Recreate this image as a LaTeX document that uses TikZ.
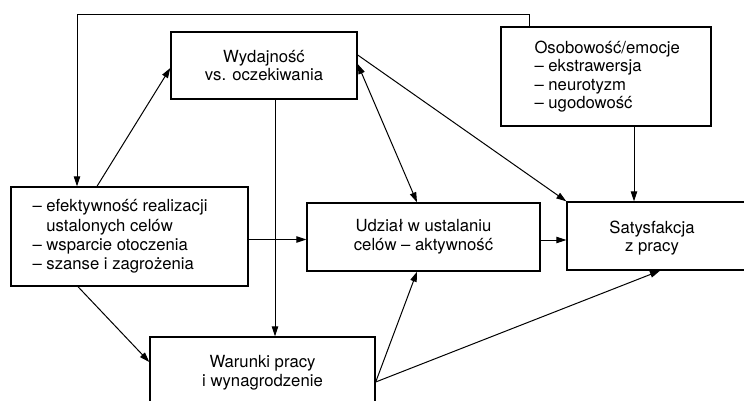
\documentclass[tikz,border=0pt]{standalone}
\usepackage{fontspec}
\setmainfont{TeX Gyre Heros}
\usetikzlibrary{arrows.meta}
\tikzset{
  box/.style={draw, line width=1.4pt, inner sep=0pt, align=center, font=\fontsize{16.7}{18.8}\selectfont},
  txt/.style={inner sep=0pt, font=\fontsize{16.7}{18.8}\selectfont},
  arr/.style={line width=1pt, -{Triangle[length=10pt,width=6.5pt]}},
  darr/.style={line width=1pt, {Triangle[length=10pt,width=6.5pt]}-{Triangle[length=10pt,width=6.5pt]}},
}
\begin{document}
\begin{tikzpicture}[x=1pt,y=-1pt]
\useasboundingbox (0,0) rectangle (744,401);
\clip (0,0) rectangle (744,401);
% boxes
\node[box, minimum width=186pt, minimum height=67pt] (wyd) at (264,65.5) {Wydajność\\vs. oczekiwania};
\node[box, minimum width=210pt, minimum height=99pt] (oso) at (606,76.5) {};
\node[box, minimum width=237pt, minimum height=99pt] (left) at (129.5,236.5) {};
\node[box, minimum width=233pt, minimum height=68pt] (udz) at (423.5,237) {Udział w ustalaniu\\celów – aktywność};
\node[box, minimum width=193pt, minimum height=68pt] (sat) at (663.5,236) {};
\node[box, minimum width=225pt, minimum height=71pt] (war) at (262.5,372.5) {Warunki pracy\\i wynagrodzenie};
% texts
\node[txt, anchor=west, align=left, font=\fontsize{16.7}{19.3}\selectfont] (lefttext) at ([xshift=22pt]left.west)
  {– efektywność realizacji\\\hphantom{–\ }ustalonych celów\\– wsparcie otoczenia\\– szanse i zagrożenia};
\node[txt, anchor=west, align=left, font=\fontsize{16.7}{18.3}\selectfont] (osotext) at ([xshift=34pt]oso.west)
  {Osobowość/emocje\\– ekstrawersja\\– neurotyzm\\– ugodowość};
\node[txt, align=center] (sattext) at ([xshift=-11.5pt,yshift=-2pt]sat.center) {Satysfakcja\\z pracy};
% connectors
\draw[arr] ([xshift=-77pt]oso.north) -- ++(0,-12) -| ([xshift=-52.5pt]left.north);
\draw[arr] ([xshift=-32.5pt]left.north) -- ([yshift=-2.5pt]wyd.west);
\draw[arr] ([xshift=11pt]wyd.south) -- ([xshift=11pt]wyd.south |- war.north);
\draw[arr] ([yshift=-3pt]left.east) -- ([yshift=-3pt]left.east -| udz.west);
\draw[arr] ([yshift=-3pt]udz.east) -- ([yshift=-3pt]udz.east -| sat.west);
\draw[arr] ([xshift=-51.5pt]left.south) -- ([yshift=10.5pt]war.west);
\coordinate (wr) at ([yshift=-9.5pt]war.east);
\draw[arr] (wr) -- ([xshift=-6.5pt]udz.south);
\draw[arr] (wr) -- ([xshift=-3.5pt]sat.south);
\draw[arr] ([yshift=10.5pt]wyd.east) -- (sat.north west);
\draw[darr] ([yshift=1.5pt]wyd.east) -- ([xshift=-6.5pt]udz.north);
\draw[arr] ([xshift=28pt]oso.south) -- ([xshift=28pt]oso.south |- sat.north);
\end{tikzpicture}
\end{document}
